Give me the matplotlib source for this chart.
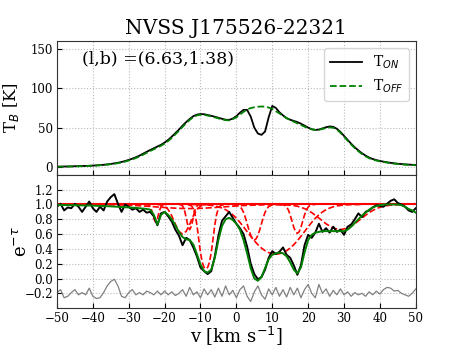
import numpy as np
import matplotlib
matplotlib.use("Agg")
import matplotlib.pyplot as plt

# === 1. Data ===
vel = np.arange(-50, 51)   # 1 km/s channels

t_on = [0.4, 0.5, 0.6, 0.7, 0.8, 1.0, 1.1, 1.3, 1.4, 1.6,
        1.8, 2.1, 2.4, 2.8, 3.3, 3.9, 4.6, 5.4, 6.4, 7.6,
        9.0, 10.6, 12.4, 14.4, 16.9, 19.3, 21.6, 23.8, 26.0, 28.2,
        31.0, 34.5, 38.5, 43.0, 47.5, 52.5, 57.0, 61.0, 64.5, 66.5,
        67.2, 67.0, 66.0, 65.0, 63.8, 62.5, 61.2, 60.0, 59.8, 61.5,
        64.5, 69.0, 72.5, 72.5, 64.0, 50.0, 42.5, 40.8, 45.0, 63.0,
        77.5, 75.0, 69.5, 65.5, 62.0, 60.0, 58.5, 57.0, 55.0, 52.5,
        50.0, 48.0, 47.0, 47.5, 49.0, 50.5, 51.5, 51.0, 48.5, 44.5,
        39.5, 34.5, 29.5, 25.0, 21.0, 17.5, 14.5, 12.0, 10.2, 8.8,
        7.7, 6.8, 6.0, 5.3, 4.7, 4.2, 3.8, 3.4, 3.1, 2.8, 2.6]

t_off = [0.3, 0.4, 0.5, 0.6, 0.7, 0.8, 0.9, 1.0, 1.2, 1.4,
         1.6, 1.9, 2.2, 2.6, 3.0, 3.5, 4.1, 4.9, 5.8, 6.9,
         8.2, 9.7, 11.4, 13.3, 15.6, 18.0, 20.3, 22.5, 24.7, 27.0,
         29.7, 33.0, 37.0, 41.5, 46.0, 51.0, 55.5, 59.8, 63.3, 65.5,
         66.3, 66.2, 65.3, 64.2, 63.0, 61.7, 60.5, 59.5, 59.2, 60.8,
         63.0, 66.5, 70.0, 73.0, 74.8, 75.8, 76.5, 76.8, 76.6, 75.5,
         73.8, 70.8, 68.0, 65.0, 62.0, 59.8, 57.5, 55.5, 53.3, 51.2,
         49.5, 47.8, 47.0, 47.2, 48.3, 49.5, 50.3, 49.8, 47.5, 43.5,
         38.5, 33.5, 28.5, 24.0, 20.0, 16.5, 13.5, 11.2, 9.5, 8.2,
         7.2, 6.4, 5.6, 4.9, 4.3, 3.8, 3.4, 3.0, 2.7, 2.5, 2.3]

abs_data = [0.97, 1.01, 0.92, 0.96, 0.95, 1.01, 0.97, 0.90, 0.97, 1.04,
            0.95, 0.90, 0.97, 0.92, 1.04, 1.10, 1.14, 1.01, 0.90, 1.00,
            0.97, 0.93, 0.95, 0.90, 0.93, 0.89, 0.90, 0.84, 0.72, 0.88,
            0.90, 0.84, 0.77, 0.66, 0.58, 0.45, 0.55, 0.52, 0.42, 0.30,
            0.15, 0.10, 0.06, 0.10, 0.30, 0.58, 0.78, 0.84, 0.90, 0.82,
            0.74, 0.68, 0.60, 0.43, 0.20, 0.06, -0.01, 0.02, 0.12, 0.28,
            0.37, 0.33, 0.36, 0.42, 0.32, 0.28, 0.18, 0.05, 0.18, 0.45,
            0.59, 0.55, 0.62, 0.74, 0.63, 0.68, 0.62, 0.70, 0.63, 0.66,
            0.59, 0.70, 0.73, 0.80, 0.88, 0.83, 0.90, 0.92, 0.96, 0.99,
            0.98, 0.97, 1.01, 1.05, 1.07, 1.02, 1.00, 0.97, 0.92, 0.90, 0.95]

abs_fit = [0.995, 0.994, 0.993, 0.992, 0.991, 0.990, 0.989, 0.988, 0.987, 0.986,
           0.985, 0.983, 0.981, 0.979, 0.977, 0.975, 0.972, 0.969, 0.966, 0.963,
           0.960, 0.957, 0.954, 0.950, 0.945, 0.940, 0.930, 0.860, 0.730, 0.860,
           0.900, 0.860, 0.800, 0.720, 0.630, 0.560, 0.530, 0.520, 0.460, 0.330,
           0.190, 0.100, 0.080, 0.120, 0.280, 0.520, 0.710, 0.800, 0.820, 0.790,
           0.740, 0.660, 0.520, 0.340, 0.140, 0.000, -0.030, 0.020, 0.140, 0.260,
           0.320, 0.340, 0.350, 0.340, 0.300, 0.220, 0.120, 0.070, 0.150, 0.350,
           0.520, 0.590, 0.620, 0.630, 0.640, 0.640, 0.640, 0.640, 0.640, 0.640,
           0.640, 0.660, 0.700, 0.750, 0.800, 0.850, 0.890, 0.930, 0.960, 0.980,
           0.990, 1.000, 1.000, 1.000, 1.000, 1.000, 0.990, 0.970, 0.940, 0.920, 0.890]

residual = [-0.19, -0.15, -0.26, -0.24, -0.19, -0.15, -0.22, -0.19, -0.22, -0.13,
            -0.24, -0.27, -0.26, -0.19, -0.10, -0.04, -0.01, -0.10, -0.24, -0.26,
            -0.19, -0.15, -0.22, -0.19, -0.22, -0.17, -0.19, -0.22, -0.17, -0.22,
            -0.17, -0.22, -0.18, -0.23, -0.20, -0.15, -0.24, -0.12, -0.22, -0.18,
            -0.26, -0.14, -0.22, -0.15, -0.25, -0.13, -0.24, -0.10, -0.22, -0.16,
            -0.26, -0.15, -0.10, -0.24, -0.31, -0.18, -0.10, -0.22, -0.28, -0.14,
            -0.22, -0.12, -0.24, -0.15, -0.25, -0.12, -0.22, -0.13, -0.26, -0.15,
            -0.08, -0.20, -0.26, -0.08, -0.20, -0.14, -0.24, -0.16, -0.22, -0.14,
            -0.22, -0.18, -0.24, -0.19, -0.22, -0.20, -0.24, -0.18, -0.22, -0.17,
            -0.21, -0.15, -0.12, -0.13, -0.17, -0.16, -0.20, -0.22, -0.24, -0.20, -0.14]

# individual Gaussian components (e^-tau of each)
comp_a_v = [-25.5, -24.5, -24, -23.5, -23, -22.5, -22, -21.5, -21, -20.5, -19.5]
comp_a_e = [1.0, 0.995, 0.973, 0.906, 0.81, 0.76, 0.81, 0.906, 0.973, 0.995, 1.0]

comp_b_v = [-22, -21, -20, -19, -18, -17, -16, -15, -14, -13, -12, -11, -10, -9, -8]
comp_b_e = [1.0, 0.994, 0.978, 0.933, 0.847, 0.733, 0.637, 0.60, 0.637, 0.733,
            0.847, 0.933, 0.978, 0.994, 1.0]

comp_c_v = [-16, -15.5, -15, -14.5, -14, -13.5, -13, -12.5, -12, -11.5, -11, -10.5, -10]
comp_c_e = [1.0, 0.997, 0.982, 0.931, 0.827, 0.71, 0.66, 0.71, 0.827, 0.931, 0.982, 0.997, 1.0]

comp_d_v = [-13.5, -12.5, -12, -11.5, -11, -10.5, -10, -9.5, -9, -8.5,
            -8, -7.5, -7, -6.5, -6, -5.5, -5, -4.5, -3.5]
comp_d_e = [0.999, 0.982, 0.947, 0.867, 0.725, 0.535, 0.35, 0.219, 0.15, 0.13,
            0.15, 0.219, 0.35, 0.535, 0.725, 0.867, 0.947, 0.982, 0.999]

comp_e_v = [-43, -37, -34, -31, -28, -25, -22, -19, -16, -13, -10, -7, -4, -1, 2, 5, 8, 11, 17]
comp_e_e = [1.0, 0.998, 0.996, 0.992, 0.986, 0.977, 0.966, 0.956, 0.948, 0.945,
            0.948, 0.956, 0.966, 0.977, 0.986, 0.992, 0.996, 0.998, 1.0]

comp_f_v = [-1, 0, 1, 1.5, 2, 2.5, 3, 3.5, 4, 4.5, 5, 5.5, 6, 6.5, 7, 7.5, 8, 8.5, 9, 10, 11]
comp_f_e = [1.0, 0.995, 0.972, 0.942, 0.894, 0.825, 0.741, 0.656, 0.584, 0.536, 0.52,
            0.536, 0.584, 0.656, 0.741, 0.825, 0.894, 0.942, 0.972, 0.995, 1.0]

comp_g_v = list(range(-13, 36))
comp_g_e = [1.0, 1.0, 0.999, 0.998, 0.996, 0.993, 0.988, 0.980, 0.969, 0.952,
            0.930, 0.900, 0.861, 0.814, 0.759, 0.698, 0.634, 0.571, 0.510, 0.457,
            0.411, 0.376, 0.350, 0.335, 0.330, 0.335, 0.350, 0.376, 0.411, 0.457,
            0.510, 0.571, 0.634, 0.698, 0.759, 0.814, 0.861, 0.900, 0.930, 0.952,
            0.969, 0.980, 0.988, 0.993, 0.996, 0.998, 0.999, 1.0, 1.0]

comp_h_v = [12, 13, 13.5, 14, 14.5, 15, 15.5, 16, 16.5, 17, 17.5, 18, 18.5, 19, 19.5, 20, 20.5, 21, 22]
comp_h_e = [1.0, 0.996, 0.987, 0.966, 0.925, 0.86, 0.776, 0.693, 0.632, 0.61,
            0.632, 0.693, 0.776, 0.86, 0.925, 0.966, 0.987, 0.996, 1.0]

comp_i_v = [11, 13, 15, 17, 19, 21, 23, 25, 27, 29, 31, 33, 35, 37, 39, 41, 43, 45, 47]
comp_i_e = [1.0, 0.9975, 0.992, 0.977, 0.945, 0.891, 0.817, 0.739, 0.681, 0.66,
            0.681, 0.739, 0.817, 0.891, 0.945, 0.977, 0.992, 0.9975, 1.0]

components = [(comp_a_v, comp_a_e), (comp_b_v, comp_b_e), (comp_c_v, comp_c_e),
              (comp_d_v, comp_d_e), (comp_e_v, comp_e_e), (comp_f_v, comp_f_e),
              (comp_g_v, comp_g_e), (comp_h_v, comp_h_e), (comp_i_v, comp_i_e)]
baseline_level = 1.0

source_name = "NVSS J175526-22321"
lb_text = "(l,b) =(6.63,1.38)"

# === 2. Style ===
plt.rcParams['font.family'] = 'serif'
plt.rcParams['mathtext.fontset'] = 'dejavusans'

fig = plt.figure(figsize=(4.63, 3.47), dpi=100)
ax1 = fig.add_axes([0.123, 0.496, 0.775, 0.386])
ax2 = fig.add_axes([0.123, 0.112, 0.775, 0.384], sharex=ax1)

# === 3. Emission panel ===
ax1.plot(vel, t_on, color='black', lw=1.3, label=r'T$_{ON}$')
ax1.plot(vel, t_off, color='green', lw=1.3, ls='--', label=r'T$_{OFF}$')
ax1.set_ylim(-10, 160)
ax1.set_yticks([0, 50, 100, 150])
ax1.set_ylabel(r'T$_B$ [K]', fontsize=12)
ax1.yaxis.set_label_coords(-0.10, 0.5)
ax1.set_title(source_name, fontsize=14.5, pad=5)
ax1.text(0.07, 0.83, lb_text, transform=ax1.transAxes, fontsize=12.5)
ax1.legend(loc='upper right', fontsize=10, handlelength=2.3)
plt.setp(ax1.get_xticklabels(), visible=False)

# === 4. Absorption panel ===
ax2.axhline(baseline_level, color='red', lw=1.5)
for cv, ce in components:
    ax2.plot(cv, ce, color='red', ls='--', lw=1.2)
ax2.plot(vel, abs_data, color='black', lw=1.4)
ax2.plot(vel, abs_fit, color='green', lw=1.4)
ax2.plot(vel, residual, color='grey', lw=0.9)
ax2.set_ylim(-0.4, 1.4)
ax2.set_yticks([-0.2, 0.0, 0.2, 0.4, 0.6, 0.8, 1.0, 1.2])
ax2.set_xlim(-50, 50)
ax2.set_xticks(range(-50, 51, 10))
ax2.set_ylabel(r'e$^{-\tau}$', fontsize=13)
ax2.yaxis.set_label_coords(-0.075, 0.5)
ax2.set_xlabel(r'v [km s$^{-1}$]', fontsize=13, labelpad=0)

for ax in (ax1, ax2):
    ax.grid(True, linestyle=':', color='#bbbbbb', lw=0.8)
    ax.tick_params(direction='in', labelsize=8.5, pad=3)
    for sp in ax.spines.values():
        sp.set_color('#333333')

fig.savefig("out.png", dpi=100)
